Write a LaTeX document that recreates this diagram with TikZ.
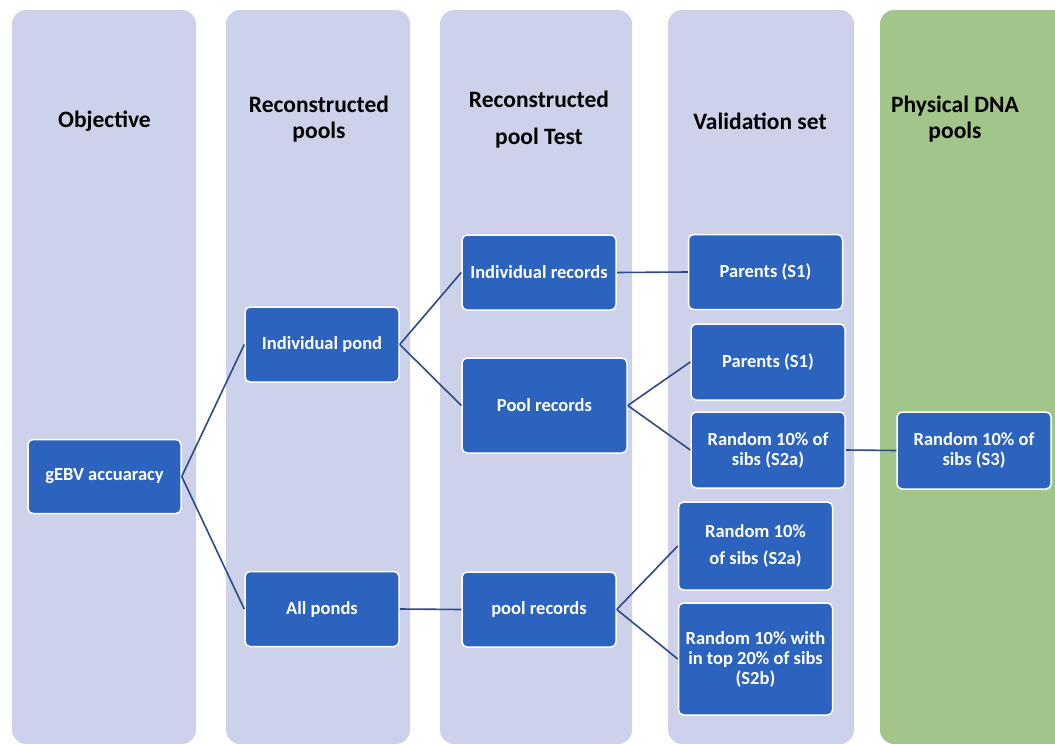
\documentclass[tikz,border=0pt]{standalone}
\usepackage{fontspec}
\setmainfont{Carlito}
\definecolor{laneblue}{HTML}{CDD2EA}
\definecolor{lanegreen}{HTML}{A2C68A}
\definecolor{boxblue}{HTML}{2C63BE}
\definecolor{linkblue}{HTML}{2E4A86}
\begin{document}
\begin{tikzpicture}[x=1pt,y=-1pt,
    lane/.style={fill=laneblue,rounded corners=14pt},
    head/.style={font=\bfseries\fontsize{23.5}{26}\selectfont,text=black,align=center},
    box/.style={shape=rectangle,draw=white,line width=1.5pt,fill=boxblue,rounded corners=5pt,
        text=white,font=\bfseries\fontsize{18.5}{20}\selectfont,align=center,
        minimum width=154pt,minimum height=75pt,inner sep=1pt},
    link/.style={draw=linkblue,line width=1.6pt}]
    \useasboundingbox (0,0) rectangle (1055,744);
    % lanes
    \path[lane] (12,10) rectangle (196,744);
    \path[lane] (226,10) rectangle (410,744);
    \path[lane] (440,10) rectangle (632,744);
    \path[lane] (668,10) rectangle (854,744);
    \path[lane,fill=lanegreen] (880,10) rectangle (1075,744);

    \node[head] (h-obj) at (104.5,121) {Objective};
    \node[head] (h-rp) at (319,119) {Reconstructed\\pools};
    \node[head] (h-rt) at (539,119.5) {Reconstructed\\[11pt]pool Test};
    \node[head] (h-vs) at (760,121) {Validation set};
    \node[head] (h-dna) at (955,119) {Physical DNA\\pools};

    \node[box,minimum width=153pt,minimum height=74pt] (acc) at (104.5,476.5) {gEBV accuaracy};
    \node[box] (ind-pond) at (322,344.5) {Individual pond};
    \node[box] (all-ponds) at (322,609) {All ponds};
    \node[box] (ind-rec) at (539,272.5) {Individual records};
    \node[box,minimum width=165pt,minimum height=95pt] (pool-rec) at (544.5,405.5) {Pool records};
    \node[box] (all-rec) at (539,609.5) {pool records};
    \node[box] (par-1) at (765.5,272) {Parents (S1)};
    \node[box,minimum height=76pt] (par-2) at (768,362) {Parents (S1)};
    \node[box,minimum height=76pt] (rnd-1) at (768,450) {Random 10\% of\\sibs (S2a)};
    \node[box,minimum height=88pt] (rnd-2) at (755.5,546) {Random 10\%\\[7pt]of sibs (S2a)};
    \node[box,minimum height=112pt] (top-20) at (755.5,659) {Random 10\% with\\in top 20\% of sibs\\(S2b)};
    \node[box,minimum height=77pt] (dna-rnd) at (974,450.5) {Random 10\% of\\sibs (S3)};

    \path[link]
    (acc.east) edge (ind-pond.west)
    (acc.east) edge (all-ponds.west)
    (ind-pond.east) edge (ind-rec.west)
    (ind-pond.east) edge (pool-rec.west)
    (all-ponds.east) edge (all-rec.west)
    (ind-rec.east) edge (par-1.west)
    (pool-rec.east) edge (par-2.west)
    (pool-rec.east) edge (rnd-1.west)
    (rnd-1.east) edge (dna-rnd.west)
    (all-rec.east) edge (rnd-2.west)
    (all-rec.east) edge (top-20.west)
    ;
\end{tikzpicture}
\end{document}
